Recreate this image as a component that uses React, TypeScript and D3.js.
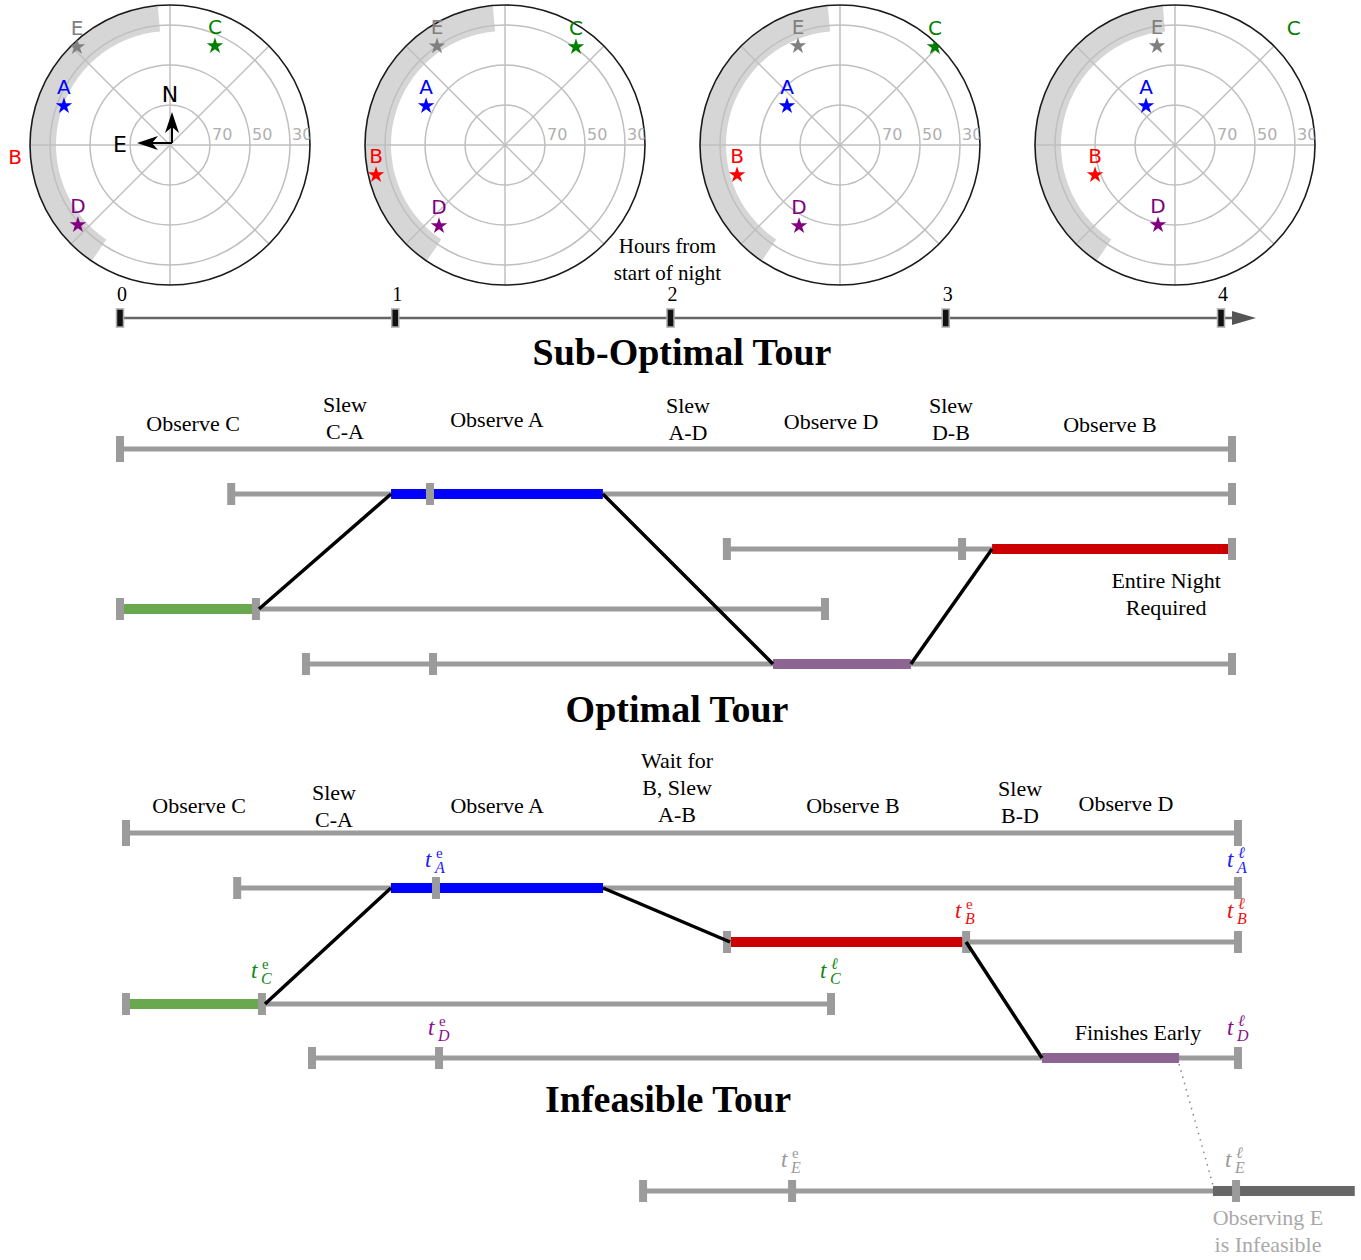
import React from 'react';
import * as d3 from 'd3';

// ---------- Sky charts data ----------
const targetNames = ['A', 'B', 'C', 'D', 'E'];
const targetColors = ['#0000ff', '#ff0000', '#008000', '#800080', '#808080'];
// altitude (deg) at each of the 4 snapshots
const altA = [33.5, 46.0, 57.1, 65.7];
const altB = [11.0, 23.8, 36.4, 47.3];
const altC = [35.6, 29.5, 21.8, 13.0];
const altD = [29.0, 37.8, 44.6, 49.1];
const altE = [22.4, 30.0, 36.2, 39.7];
// azimuth (deg, N through E; E drawn on the left)
const azA = [69.8, 63.7, 53.7, 36.6];
const azB = [101.3, 103.1, 106.2, 110.6];
const azC = [335.6, 324.1, 315.9, 309.5];
const azD = [131.0, 140.8, 153.2, 168.0];
const azE = [43.5, 34.5, 23.0, 10.3];
const altAll = [altA, altB, altC, altD, altE];
const azAll = [azA, azB, azC, azD, azE];
const snapshots = [0, 1, 2, 3];
const ringAlts = [70, 50, 30];
const horizonAlt = 20;
const blockedAz = [5, 146];
const blockedAlt = [20, 33];
const spokeAngles = [0, 45, 90, 135, 180, 225, 270, 315];

// ---------- Timeline ----------
const timelineHours = [0, 1, 2, 3, 4];

// ---------- Sub-optimal tour (C, A, D, B) ----------
const subTargets = ['A', 'B', 'C', 'D'];
const subWinStart = [0.40, 2.183, 0, 0.669];
const subWinEnd = [4, 4, 2.536, 4];
const subEarliest = [1.115, 3.029, 0.489, 1.126];
const subObsStart = [0.975, 3.137, 0, 2.349];
const subObsEnd = [1.737, 3.99, 0.5, 2.845];
const subOrder = ['C', 'A', 'D', 'B'];
const subLabelText = [['Observe C'], ['Slew', 'C-A'], ['Observe A'], ['Slew', 'A-D'], ['Observe D'], ['Slew', 'D-B'], ['Observe B'], ['Entire Night', 'Required']];
const subLabelHour = [0.263, 0.809, 1.356, 2.043, 2.558, 2.989, 3.561, 3.763];

// ---------- Infeasible tour (C, A, B, D, E) ----------
const infTargets = ['A', 'B', 'C', 'D', 'E'];
const infWinStart = [0.40, 2.162, 0, 0.669, 1.86];
const infWinEnd = [4, 4, 2.536, 4, 3.993];
const infEarliest = [1.115, 3.022, 0.489, 1.126, 2.396];
const infObsStart = [0.953, 2.173, 0, 3.295, 3.91];
const infObsEnd = [1.716, 3.022, 0.5, 3.788, 4.42];
const infOrder = ['C', 'A', 'B', 'D', 'E'];
const infLinkStyle = ['solid', 'solid', 'solid', 'dotted'];
const infLabelText = [['Observe C'], ['Slew', 'C-A'], ['Observe A'], ['Wait for', 'B, Slew', 'A-B'], ['Observe B'], ['Slew', 'B-D'], ['Observe D'], ['Finishes Early'], ['Observing E', 'is Infeasible']];
const infLabelHour = [0.263, 0.748, 1.335, 1.982, 2.615, 3.216, 3.597, 3.640, 4.108];

const barColors: Record<string, string> = { A: '#0000ff', B: '#cc0000', C: '#6aa84f', D: '#8e6592', E: '#666666' };
const tColors: Record<string, string> = { A: '#2020ff', B: '#ee1111', C: '#118811', D: '#881188', E: '#9a9a9a' };

const SERIF = '"Liberation Serif", "Times New Roman", serif';
const SANS = '"DejaVu Sans", sans-serif';
const deg = Math.PI / 180;
const GREY = '#9b9b9b';

function Polar({ cx, cy, snap, compass }: { cx: number; cy: number; snap: number; compass: boolean }) {
  const R = 140;
  const r = d3.scaleLinear().domain([90, horizonAlt]).range([0, R]);
  const band = d3.arc()({
    innerRadius: r(blockedAlt[1]),
    outerRadius: r(blockedAlt[0]),
    startAngle: -blockedAz[1] * deg,
    endAngle: -blockedAz[0] * deg,
  } as any) as string;
  const star = d3.symbol(d3.symbolStar, 85)() as string;
  const clipId = `skyclip${snap}`;
  const gridC = '#bfbfbf';
  return (
    <g transform={`translate(${cx},${cy})`}>
      <defs>
        <clipPath id={clipId}>
          <circle r={R} />
        </clipPath>
      </defs>
      <circle r={R} fill="#fff" />
      <path d={band} fill="#d6d6d6" />
      {ringAlts.map((a) => (
        <circle key={a} r={r(a)} fill="none" stroke={gridC} strokeWidth={1.5} />
      ))}
      {spokeAngles.map((a) => {
        const [x, y] = d3.pointRadial(a * deg, R);
        return <line key={a} x1={0} y1={0} x2={x} y2={y} stroke={gridC} strokeWidth={1.5} />;
      })}
      <circle r={R} fill="none" stroke="#1a1a1a" strokeWidth={1.6} />
      <g clipPath={`url(#${clipId})`}>
        {ringAlts.map((a) => (
          <text key={'l' + a} x={r(a) + 2} y={-5} fontSize={16} fill="#b0b0b0" fontFamily={SANS}>
            {a}
          </text>
        ))}
      </g>
      {compass && (
        <g>
          <line x1={2} y1={-2} x2={2} y2={-20} stroke="#000" strokeWidth={2} />
          <path d="M2,-33 L-5,-12 L2,-18 L9,-12 Z" fill="#000" />
          <line x1={2} y1={-2} x2={-20} y2={-2} stroke="#000" strokeWidth={2} />
          <path d="M-33,-2 L-12,-9 L-18,-2 L-12,5 Z" fill="#000" />
          <text x={0} y={-43} fontSize={22} fontFamily={SANS} textAnchor="middle" fill="#000">N</text>
          <text x={-50} y={7} fontSize={22} fontFamily={SANS} textAnchor="middle" fill="#000">E</text>
        </g>
      )}
      <g clipPath={`url(#${clipId})`}>
        {targetNames.map((name, i) => {
          const [x, y] = d3.pointRadial(-azAll[i][snap] * deg, r(altAll[i][snap]));
          return <path key={name} d={star} transform={`translate(${x},${y})`} fill={targetColors[i]} />;
        })}
      </g>
      {targetNames.map((name, i) => {
        const [x, y] = d3.pointRadial(-azAll[i][snap] * deg, r(altAll[i][snap]));
        return (
          <text key={'n' + name} x={x} y={y - 12} fontSize={20} fontFamily={SANS} textAnchor="middle" fill={targetColors[i]}>
            {name}
          </text>
        );
      })}
    </g>
  );
}

function TLabel({ x, y, color, late, sub }: { x: number; y: number; color: string; late: boolean; sub: string }) {
  return (
    <g fill={color} fontFamily={SERIF}>
      <text x={x - 11} y={y} fontSize={23} fontStyle="italic">t</text>
      <text x={x} y={y - 9} fontSize={late ? 16 : 15} fontStyle={late ? 'italic' : 'normal'}>{late ? 'ℓ' : 'e'}</text>
      <text x={x - 1} y={y + 6} fontSize={16} fontStyle="italic">{sub}</text>
    </g>
  );
}

function Labels({ text, hours, ys, xs, color }: { text: string[][]; hours: number[]; ys: number[]; xs: d3.ScaleLinear<number, number>; color?: string }) {
  return (
    <g fontFamily={SERIF} fontSize={22} fill={color || '#000'} textAnchor="middle">
      {text.map((lines, i) =>
        lines.map((ln, j) => (
          <text key={i + '-' + j} x={xs(hours[i])} y={ys[i] + (j - (lines.length - 1)) * 27}>
            {ln}
          </text>
        ))
      )}
    </g>
  );
}

function Caps({ xs, y, marks, capH }: { xs: d3.ScaleLinear<number, number>; y: number; marks: number[]; capH: number }) {
  return (
    <g>
      {marks.map((m, i) => (
        <rect key={i} x={xs(m) - 4} y={y - capH / 2} width={8} height={capH} fill={GREY} />
      ))}
    </g>
  );
}

export default function App() {
  const W = 1361;
  const H = 1260;
  const polarX = d3.scaleLinear().domain([0, 3]).range([170, 1175]);
  const polarY = 145;
  const tl = d3.scaleLinear().domain([0, 4]).range([120, 1221]);
  const tlY = 318;
  const xS = d3.scaleLinear().domain([0, 4]).range([120, 1232]);
  const xI = d3.scaleLinear().domain([0, 4]).range([126, 1238]);

  const subNightY = 449;
  const subRowY: Record<string, number> = { A: 494, B: 549, C: 609, D: 664 };
  const subLabelY = [431, 439, 427, 440, 429, 440, 432, 615];

  const infNightY = 833;
  const infRowY: Record<string, number> = { A: 888, B: 942, C: 1004, D: 1058, E: 1191 };
  const infLabelY = [813, 827, 813, 822, 813, 823, 811, 1040, 1252];
  const infTOff: Record<string, number> = { A: -21, B: -24, C: -26, D: -23, E: -24 };

  const subIdx = (t: string) => subTargets.indexOf(t);
  const infIdx = (t: string) => infTargets.indexOf(t);

  return (
    <svg width={W} height={H} style={{ position: 'absolute', left: 0, top: 0, background: '#fff' }}>
      <rect width={W} height={H} fill="#fff" />
      {snapshots.map((s) => (
        <Polar key={s} cx={polarX(s)} cy={polarY} snap={s} compass={s === 0} />
      ))}

      {/* timeline */}
      <text x={tl(2) - 3} y={253} fontFamily={SERIF} fontSize={21} textAnchor="middle">Hours from</text>
      <text x={tl(2) - 3} y={280} fontFamily={SERIF} fontSize={21} textAnchor="middle">start of night</text>
      <line x1={tl(0)} x2={tl(4) + 14} y1={tlY} y2={tlY} stroke="#666" strokeWidth={2.5} />
      <path d={`M${tl(4) + 11},${tlY - 7} L${tl(4) + 35},${tlY} L${tl(4) + 11},${tlY + 7} Z`} fill="#555" />
      {timelineHours.map((h) => (
        <g key={h}>
          <rect x={tl(h) - 3.5} y={tlY - 9} width={7} height={18} fill="#111" stroke="#aaa" strokeWidth={1.5} />
          <text x={tl(h) + 2} y={301} fontFamily={SERIF} fontSize={20} textAnchor="middle">{h}</text>
        </g>
      ))}

      {/* titles */}
      <g fontFamily={SERIF} fontWeight="bold" fontSize={38} textAnchor="middle">
        <text x={682} y={365}>Sub-Optimal Tour</text>
        <text x={677} y={722}>Optimal Tour</text>
        <text x={668} y={1112}>Infeasible Tour</text>
      </g>

      {/* ---------- Sub-optimal ---------- */}
      <Labels text={subLabelText} hours={subLabelHour} ys={subLabelY} xs={xS} />
      <line x1={xS(0)} x2={xS(4)} y1={subNightY} y2={subNightY} stroke={GREY} strokeWidth={5} />
      <Caps xs={xS} y={subNightY} marks={[0, 4]} capH={26} />
      {subTargets.map((t, i) => (
        <line key={t} x1={xS(subWinStart[i])} x2={xS(subWinEnd[i])} y1={subRowY[t]} y2={subRowY[t]} stroke={GREY} strokeWidth={5} />
      ))}
      {subTargets.map((t, i) => (
        <line key={'b' + t} x1={xS(subObsStart[i])} x2={xS(subObsEnd[i])} y1={subRowY[t]} y2={subRowY[t]} stroke={barColors[t]} strokeWidth={10} />
      ))}
      {subTargets.map((t, i) => (
        <Caps key={'c' + t} xs={xS} y={subRowY[t]} marks={[subWinStart[i], subEarliest[i], subWinEnd[i]]} capH={22} />
      ))}
      {subOrder.slice(1).map((t, k) => {
        const p = subOrder[k];
        return (
          <line key={'s' + k} x1={xS(subObsEnd[subIdx(p)])} y1={subRowY[p]} x2={xS(subObsStart[subIdx(t)])} y2={subRowY[t]} stroke="#000" strokeWidth={3.5} />
        );
      })}

      {/* ---------- Infeasible ---------- */}
      <Labels text={infLabelText.slice(0, 8)} hours={infLabelHour.slice(0, 8)} ys={infLabelY.slice(0, 8)} xs={xI} />
      <Labels text={infLabelText.slice(8)} hours={infLabelHour.slice(8)} ys={infLabelY.slice(8)} xs={xI} color="#a9a9a9" />
      <line x1={xI(0)} x2={xI(4)} y1={infNightY} y2={infNightY} stroke={GREY} strokeWidth={5} />
      <Caps xs={xI} y={infNightY} marks={[0, 4]} capH={26} />
      {infTargets.map((t, i) => (
        <line key={t} x1={xI(infWinStart[i])} x2={xI(infWinEnd[i])} y1={infRowY[t]} y2={infRowY[t]} stroke={GREY} strokeWidth={5} />
      ))}
      {infTargets.map((t, i) => (
        <line key={'b' + t} x1={xI(infObsStart[i])} x2={xI(infObsEnd[i])} y1={infRowY[t]} y2={infRowY[t]} stroke={barColors[t]} strokeWidth={10} />
      ))}
      {infTargets.map((t, i) => (
        <Caps key={'c' + t} xs={xI} y={infRowY[t]} marks={[infWinStart[i], infEarliest[i], infWinEnd[i]]} capH={22} />
      ))}
      {infOrder.slice(1).map((t, k) => {
        const p = infOrder[k];
        const dotted = infLinkStyle[k] === 'dotted';
        return (
          <line
            key={'s' + k}
            x1={xI(infObsEnd[infIdx(p)])}
            y1={infRowY[p] + (dotted ? 6 : 0)}
            x2={xI(infObsStart[infIdx(t)])}
            y2={infRowY[t] - (dotted ? 6 : 0)}
            stroke={dotted ? '#888' : '#000'}
            strokeWidth={dotted ? 1.5 : 3.5}
            strokeDasharray={dotted ? '1.5,5' : undefined}
          />
        );
      })}
      {infTargets.map((t, i) => (
        <g key={'t' + t}>
          <TLabel x={xI(infEarliest[i])} y={infRowY[t] + infTOff[t]} color={tColors[t]} late={false} sub={t} />
          <TLabel x={xI(infWinEnd[i])} y={infRowY[t] + infTOff[t]} color={tColors[t]} late={true} sub={t} />
        </g>
      ))}
    </svg>
  );
}
